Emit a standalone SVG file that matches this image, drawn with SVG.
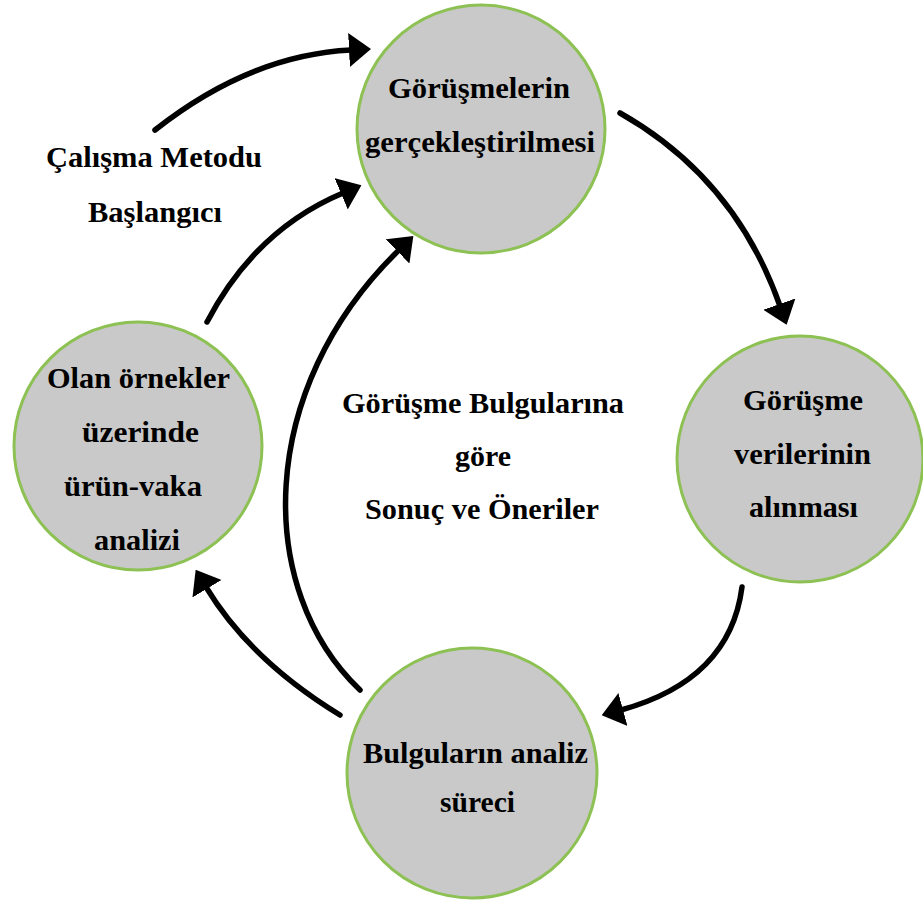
<svg xmlns="http://www.w3.org/2000/svg" width="923" height="900" viewBox="0 0 923 900">
<style>
.node{fill:#c9c9c9;stroke:#8dc153;stroke-width:3}
text{font-family:'Liberation Serif','Times New Roman',serif;font-weight:bold;font-size:30px;fill:#000;text-anchor:middle}
.c{fill:none;stroke:#000;stroke-width:5.5;stroke-linecap:round;marker-end:url(#ah)}
</style>
<defs>
<marker id="ah" markerUnits="userSpaceOnUse" viewBox="0 0 22 34" refX="2" refY="17" markerWidth="22" markerHeight="34" orient="auto">
<path d="M0,0 L22,17 L0,34 z" fill="#000"/>
</marker>
</defs>
<rect width="923" height="900" fill="#fff"/>
<g id="connectors">
<path class="c" d="M155,130 Q250,55 351,50"/>
<path class="c" d="M620,113 Q735,178 780,306"/>
<path class="c" d="M742,587 Q730,680 621,710"/>
<path class="c" d="M340,715 Q250,660 206,587"/>
<path class="c" d="M360,690 C255,590 255,390 399,250"/>
<path class="c" d="M207,322 Q255,230 343,193"/>
</g>
<g id="n1">
<circle class="node" cx="481" cy="129" r="124"/>
<text x="479" y="98" textLength="182" lengthAdjust="spacingAndGlyphs">Görüşmelerin</text>
<text x="480" y="152" textLength="230" lengthAdjust="spacingAndGlyphs">gerçekleştirilmesi</text>
</g>
<g id="n2">
<circle class="node" cx="800" cy="459" r="123"/>
<text x="803" y="410" textLength="120" lengthAdjust="spacingAndGlyphs">Görüşme</text>
<text x="802.5" y="464" textLength="137" lengthAdjust="spacingAndGlyphs">verilerinin</text>
<text x="803.5" y="517" textLength="109" lengthAdjust="spacingAndGlyphs">alınması</text>
</g>
<g id="n3">
<circle class="node" cx="472" cy="773" r="125"/>
<text x="475.5" y="763" textLength="225" lengthAdjust="spacingAndGlyphs">Bulguların analiz</text>
<text x="477.5" y="812" textLength="75" lengthAdjust="spacingAndGlyphs">süreci</text>
</g>
<g id="n4">
<circle class="node" cx="138" cy="446" r="124"/>
<text x="138.5" y="388" textLength="183" lengthAdjust="spacingAndGlyphs">Olan örnekler</text>
<text x="140.5" y="442" textLength="117" lengthAdjust="spacingAndGlyphs">üzerinde</text>
<text x="133" y="496" textLength="138" lengthAdjust="spacingAndGlyphs">ürün-vaka</text>
<text x="137" y="550" textLength="86" lengthAdjust="spacingAndGlyphs">analizi</text>
</g>
<g id="start">
<text x="154" y="167" textLength="216" lengthAdjust="spacingAndGlyphs">Çalışma Metodu</text>
<text x="155" y="222" textLength="134" lengthAdjust="spacingAndGlyphs">Başlangıcı</text>
</g>
<g id="center">
<text x="483" y="413" textLength="282" lengthAdjust="spacingAndGlyphs">Görüşme Bulgularına</text>
<text x="483" y="466" textLength="56" lengthAdjust="spacingAndGlyphs">göre</text>
<text x="482" y="519" textLength="234" lengthAdjust="spacingAndGlyphs">Sonuç ve Öneriler</text>
</g>
</svg>
